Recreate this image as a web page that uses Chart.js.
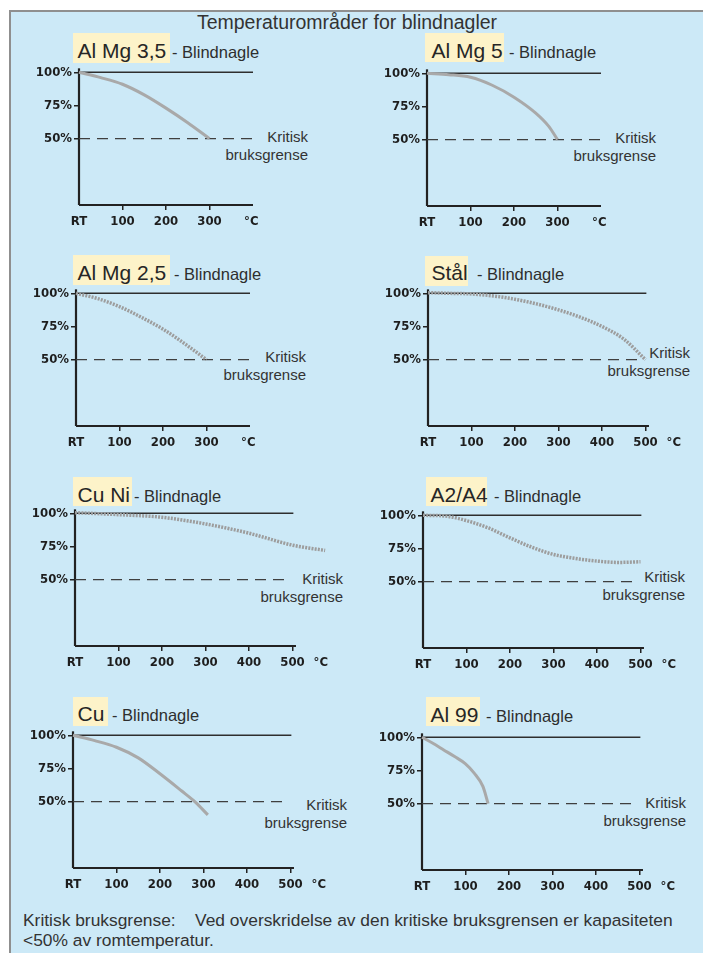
<!DOCTYPE html>
<html><head><meta charset="utf-8">
<script src="https://cdn.jsdelivr.net/npm/chart.js@4.4.1/dist/chart.umd.min.js"></script>
<style>
html,body{margin:0;padding:0;background:#fff;}
body{width:703px;height:953px;position:relative;overflow:hidden;font-family:"Liberation Sans",Arial,sans-serif;color:#2b2b2b;}
#panel{position:absolute;left:9px;top:10px;right:0;bottom:0;background:#cce9f7;border-left:2px solid #8f8f8f;border-top:2px solid #8f8f8f;}
.abs{position:absolute;white-space:pre;}
.box{position:absolute;background:#fdf3c9;}
.name{position:absolute;white-space:pre;font-size:21px;line-height:21px;color:#262626;}
.suffix{position:absolute;white-space:pre;font-size:16.5px;line-height:16.5px;color:#2e2e2e;}
.krit{position:absolute;white-space:pre;font-size:15px;line-height:18px;text-align:right;color:#333;}
canvas{position:absolute;}
</style>
</head><body>
<div id="panel"></div>
<div class="abs" style="left:97px;width:500px;text-align:center;top:12.5px;font-size:19.5px;line-height:19.5px;color:#333;">Temperaturområder for blindnagler</div>
<div class="abs" style="left:23px;top:910px;font-size:17.4px;line-height:20px;color:#333;">Kritisk bruksgrense:    Ved overskridelse av den kritiske bruksgrensen er kapasiteten
&lt;50% av romtemperatur.</div>
<script>
// ---- data ----
const yTickValues = [50, 75, 100];
const xTicksShort = [0, 100, 200, 300];
const xTicksLong = [0, 100, 200, 300, 400, 500];
const rtLabel = 'RT';
const unitLabel = '°C';
const fullCapacity = 100;
const criticalLimit = 50;
const suffixText = '- Blindnagle';
const kritiskText = 'Kritisk\nbruksgrense';

const alMg35Temp = [0, 50, 100, 150, 200, 250, 300];
const alMg35Cap  = [100, 96, 91, 83, 73, 62, 50];

const alMg5Temp = [0, 50, 100, 150, 200, 250, 280, 300];
const alMg5Cap  = [100, 99, 97, 91, 82, 70, 60, 50];

const alMg25Temp = [0, 50, 100, 150, 200, 250, 300];
const alMg25Cap  = [100, 96, 90, 82, 73, 62, 50];

const staalTemp = [0, 50, 100, 150, 200, 250, 300, 350, 400, 450, 500];
const staalCap  = [100.5, 100, 99.5, 98, 95.5, 92, 87.5, 82, 75, 65.5, 50];

const cuNiTemp = [0, 100, 200, 300, 400, 500, 575];
const cuNiCap  = [100.5, 99, 97, 92, 85, 76, 72];

const a2a4Temp = [0, 50, 100, 150, 200, 250, 300, 350, 400, 450, 500];
const a2a4Cap  = [100, 99.5, 96, 90.5, 83, 76, 70.5, 67.5, 65.5, 64.5, 65];

const cuTemp = [0, 50, 100, 150, 200, 250, 280, 310];
const cuCap  = [100, 96, 91, 83, 71, 58, 50, 40];

const al99Temp = [0, 25, 50, 75, 100, 120, 140, 152];
const al99Cap  = [100, 95.5, 90.5, 85.5, 80, 73, 63, 50];

// ---- layout (pixel placement only) ----
const specs = [
  {name:'Al Mg 3,5', temps:alMg35Temp, caps:alMg35Cap, long:false, textured:false, x0:79, y100:72,
   box:[73,33,97,30], nameX:77.5, suffixX:172, baseline:58, kritRight:308, kritCenter:137},
  {name:'Al Mg 5', temps:alMg5Temp, caps:alMg5Cap, long:false, textured:false, x0:427, y100:73,
   box:[425,33,79,29], nameX:431.5, suffixX:509, baseline:58, kritRight:656, kritCenter:138},
  {name:'Al Mg 2,5', temps:alMg25Temp, caps:alMg25Cap, long:false, textured:true, x0:76, y100:293,
   box:[73,255,97,30], nameX:77.5, suffixX:174, baseline:280, kritRight:306, kritCenter:357},
  {name:'Stål', temps:staalTemp, caps:staalCap, long:true, textured:true, x0:428, y100:293,
   box:[425,256,43,30], nameX:431.5, suffixX:477, baseline:280, kritRight:690, kritCenter:353},
  {name:'Cu Ni', temps:cuNiTemp, caps:cuNiCap, long:true, textured:true, x0:75, y100:513,
   box:[73,477,59,29], nameX:77.5, suffixX:134, baseline:502, kritRight:343, kritCenter:579},
  {name:'A2/A4', temps:a2a4Temp, caps:a2a4Cap, long:true, textured:true, x0:423, y100:515,
   box:[426,477,61,29], nameX:430.5, suffixX:494, baseline:502, kritRight:685, kritCenter:577},
  {name:'Cu', temps:cuTemp, caps:cuCap, long:true, textured:false, x0:73, y100:735,
   box:[73,697,35,29], nameX:77.5, suffixX:112, baseline:721, kritRight:347, kritCenter:805},
  {name:'Al 99', temps:al99Temp, caps:al99Cap, long:true, textured:false, x0:422, y100:737,
   box:[426,697,54,29], nameX:430.5, suffixX:486, baseline:722, kritRight:686, kritCenter:803}
];

const PX_PER_DEG = 0.435;
const PX_PER_PCT = 1.33;
const Y_MAX = 104;
const tickFont = {family:'"Liberation Sans Narrow","DejaVu Sans Condensed","Liberation Sans",sans-serif', size:13, weight:'bold'};

function addDiv(cls, text, style){
  const d = document.createElement('div');
  d.className = cls; d.textContent = text;
  Object.assign(d.style, style);
  document.body.appendChild(d);
  return d;
}

function makeChart(s){
  const b = s.box;
  addDiv('box', '', {left:b[0]+'px', top:b[1]+'px', width:b[2]+'px', height:b[3]+'px'});
  addDiv('name', s.name, {left:s.nameX+'px', top:(s.baseline - 0.8465*21)+'px'});
  addDiv('suffix', suffixText, {left:s.suffixX+'px', top:(s.baseline - 0.8465*16.5)+'px'});
  const k = addDiv('krit', kritiskText, {top:(s.kritCenter - 8.8)+'px'});
  k.style.right = (703 - s.kritRight)+'px';

  const xMax = s.long ? 600 : 400;
  const degPos = s.long ? 565 : 396;
  const axisEnd = s.long ? 508 : 400;
  const fullEnd = s.long ? 502 : 400;
  const dashEnd = s.long ? 495 : 400;
  const ticks = (s.long ? xTicksLong : xTicksShort).concat([degPos]);

  const cv = document.createElement('canvas');
  let W = Math.round(50 + xMax*PX_PER_DEG + 30);
  let H = Math.round(14 + Y_MAX*PX_PER_PCT + 32);
  cv.width = W; cv.height = H;
  cv.style.width = W+'px'; cv.style.height = H+'px';
  document.body.appendChild(cv);

  const line = (pts, color, width, dash) => ({
    data: pts, borderColor: color, borderWidth: width, borderDash: dash || [],
    pointRadius: 0, clip: false, fill: false
  });

  const chart = new Chart(cv, {
    type: 'line',
    data: { datasets: [
      Object.assign(line(s.temps.map((t,i)=>({x:t, y:s.caps[i]})),
        s.textured ? '#9d9d9d' : '#a9a9a9', s.textured ? 3.5 : 3, s.textured ? [2,1.2] : []),
        {cubicInterpolationMode:'monotone'}),
      line([{x:0,y:fullCapacity},{x:fullEnd,y:fullCapacity}], '#2e2e2e', 1.5),
      line([{x:0,y:criticalLimit},{x:dashEnd,y:criticalLimit}], '#3f3f3f', 1.4, [11,7]),
      line([{x:0,y:0},{x:axisEnd,y:0}], '#222', 2.2),
      line([{x:0,y:0},{x:0,y:Y_MAX-1}], '#222', 2.2)
    ]},
    options: {
      responsive: false, animation: false,
      layout: {padding: {top:14, right:30, left:0, bottom:0}},
      plugins: {legend:{display:false}, tooltip:{enabled:false}},
      scales: {
        x: {
          type:'linear', min:0, max:xMax,
          afterBuildTicks: sc => { sc.ticks = ticks.map(v=>({value:v})); },
          afterFit: sc => { sc.height = 32; },
          border: {display:false},
          grid: {drawOnChartArea:false, drawTicks:true, tickLength:5, lineWidth:1.5,
                 color: ctx => (ctx.tick && (ctx.tick.value===0 || ctx.tick.value===degPos)) ? 'rgba(0,0,0,0)' : '#222'},
          ticks: {autoSkip:false, maxRotation:0, minRotation:0, padding:4, color:'#1e1e1e', font:tickFont,
                  callback: v => v===0 ? rtLabel : (v===degPos ? unitLabel : String(v))}
        },
        y: {
          min:0, max:Y_MAX,
          afterBuildTicks: sc => { sc.ticks = yTickValues.map(v=>({value:v})); },
          afterFit: sc => { sc.width = 50; },
          border: {display:false},
          grid: {drawOnChartArea:false, drawTicks:true, tickLength:5, lineWidth:1.5, color:'#222'},
          ticks: {padding:2, color:'#1e1e1e', font:tickFont, callback: v => v + '%'}
        }
      }
    }
  });

  // adjust canvas so the plot scale matches the reference
  const wantW = xMax*PX_PER_DEG, wantH = Y_MAX*PX_PER_PCT;
  const dW = wantW - chart.chartArea.width, dH = wantH - chart.chartArea.height;
  if (Math.abs(dW) > 0.3 || Math.abs(dH) > 0.3) {
    W = Math.round(W + dW); H = Math.round(H + dH);
    chart.resize(W, H);
  }
  const px0 = chart.scales.x.getPixelForValue(0);
  const py100 = chart.scales.y.getPixelForValue(fullCapacity);
  cv.style.left = (s.x0 - px0) + 'px';
  cv.style.top = (s.y100 - py100) + 'px';
}

specs.forEach(makeChart);
</script>
</body></html>
